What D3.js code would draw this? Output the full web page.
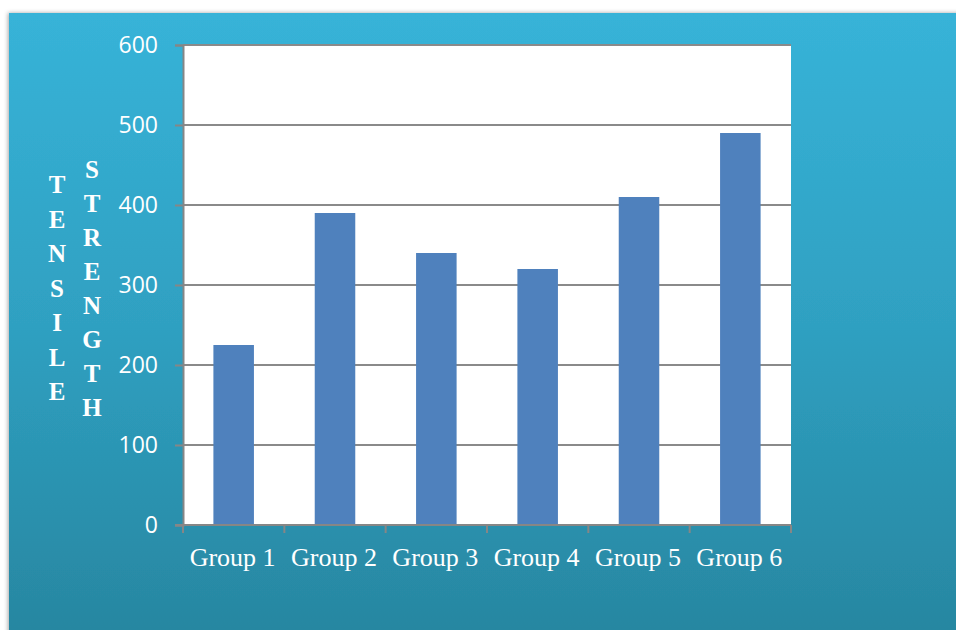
<!DOCTYPE html>
<html>
<head>
<meta charset="utf-8">
<script src="https://cdn.jsdelivr.net/npm/d3@7"></script>
<style>
  html, body { margin: 0; padding: 0; background: #ffffff; }
  svg { display: block; }
</style>
</head>
<body>
<svg id="chart" width="956" height="630"></svg>
<script>
// Tensile strength by group
const categories = ["Group 1", "Group 2", "Group 3", "Group 4", "Group 5", "Group 6"];
const values = [225, 390, 340, 320, 410, 490];
const yTicks = [0, 100, 200, 300, 400, 500, 600];
const titleLeft = "TENSILE";
const titleRight = "STRENGTH";

const svg = d3.select("#chart");
const W = 956, H = 630;

// Background panel with vertical blue gradient and soft left shadow
const defs = svg.append("defs");
const grad = defs.append("linearGradient")
  .attr("id", "bg").attr("x1", 0).attr("y1", 0).attr("x2", 0).attr("y2", 1);
grad.append("stop").attr("offset", "0%").attr("stop-color", "#37b3d8");
grad.append("stop").attr("offset", "50%").attr("stop-color", "#2fa0c1");
grad.append("stop").attr("offset", "100%").attr("stop-color", "#2786a0");

const shadow = defs.append("filter").attr("id", "shadow")
  .attr("x", "-5%").attr("y", "-5%").attr("width", "110%").attr("height", "110%");
shadow.append("feDropShadow").attr("dx", -1).attr("dy", 0)
  .attr("stdDeviation", 2).attr("flood-color", "#000").attr("flood-opacity", 0.35);

svg.append("rect")
  .attr("x", 9).attr("y", 13).attr("width", W - 9 + 10).attr("height", H - 13 + 10)
  .attr("fill", "url(#bg)")
  .attr("filter", "url(#shadow)");

// Plot area
const plot = { left: 183, top: 45, right: 791, bottom: 525 };

const x = d3.scaleBand()
  .domain(categories)
  .range([plot.left, plot.right])
  .paddingInner(0.6)
  .paddingOuter(0.3);

const xb = d3.scaleBand()
  .domain(categories)
  .range([plot.left, plot.right])
  .padding(0);

const y = d3.scaleLinear()
  .domain([0, 600])
  .range([plot.bottom, plot.top]);

svg.append("rect")
  .attr("x", plot.left).attr("y", plot.top)
  .attr("width", plot.right - plot.left).attr("height", plot.bottom - plot.top)
  .attr("fill", "#ffffff");

// Gridlines
svg.append("g")
  .selectAll("line")
  .data(yTicks.filter(d => d > 0))
  .join("line")
  .attr("x1", plot.left).attr("x2", plot.right)
  .attr("y1", d => y(d)).attr("y2", d => y(d))
  .attr("stroke", "#8a8a8a").attr("stroke-width", 2);

// Bars
svg.append("g")
  .selectAll("rect")
  .data(categories.map((c, i) => ({ c, v: values[i] })))
  .join("rect")
  .attr("x", d => x(d.c))
  .attr("y", d => y(d.v))
  .attr("width", x.bandwidth())
  .attr("height", d => y(0) - y(d.v))
  .attr("fill", "#4f81bd");

// Y axis
const yAxis = d3.axisLeft(y).tickValues(yTicks).tickSize(8).tickPadding(17).tickFormat(d3.format("d"));
const gy = svg.append("g").attr("transform", `translate(${plot.left},0)`).call(yAxis);
gy.select(".domain").attr("stroke", "#868686").attr("stroke-width", 2);
gy.selectAll(".tick line").attr("stroke", "#868686").attr("stroke-width", 2);
gy.selectAll(".tick text")
  .attr("fill", "#ffffff")
  .style("font-family", "'Open Sans', sans-serif")
  .style("font-size", "23px");

// X axis with tick marks at category boundaries
const gx = svg.append("g").attr("transform", `translate(0,${plot.bottom})`);
gx.append("line")
  .attr("x1", plot.left - 8).attr("x2", plot.right)
  .attr("y1", 0).attr("y2", 0)
  .attr("stroke", "#868686").attr("stroke-width", 2);
const bounds = categories.map(c => xb(c)).concat([plot.right]);
gx.selectAll("line.tk")
  .data(bounds)
  .join("line").attr("class", "tk")
  .attr("x1", d => d).attr("x2", d => d)
  .attr("y1", 0).attr("y2", 8)
  .attr("stroke", "#868686").attr("stroke-width", 2);
gx.selectAll("text")
  .data(categories)
  .join("text")
  .attr("x", d => x(d) + x.bandwidth() / 2 - 1)
  .attr("y", 41)
  .attr("text-anchor", "middle")
  .attr("fill", "#ffffff")
  .style("font-family", "'Liberation Serif', 'Times New Roman', serif")
  .style("font-size", "26px")
  .text(d => d);

// Vertical stacked axis title in two columns
function stackedTitle(word, cx, firstBaseline, step) {
  svg.append("g")
    .selectAll("text")
    .data(word.split(""))
    .join("text")
    .attr("x", cx)
    .attr("y", (d, i) => firstBaseline + i * step)
    .attr("text-anchor", "middle")
    .attr("fill", "#ffffff")
    .style("font-family", "'Liberation Serif', 'Times New Roman', serif")
    .style("font-weight", "bold")
    .style("font-size", "25px")
    .text(d => d);
}
stackedTitle(titleLeft, 57, 193, 34.5);
stackedTitle(titleRight, 92, 178, 34);
</script>
</body>
</html>
